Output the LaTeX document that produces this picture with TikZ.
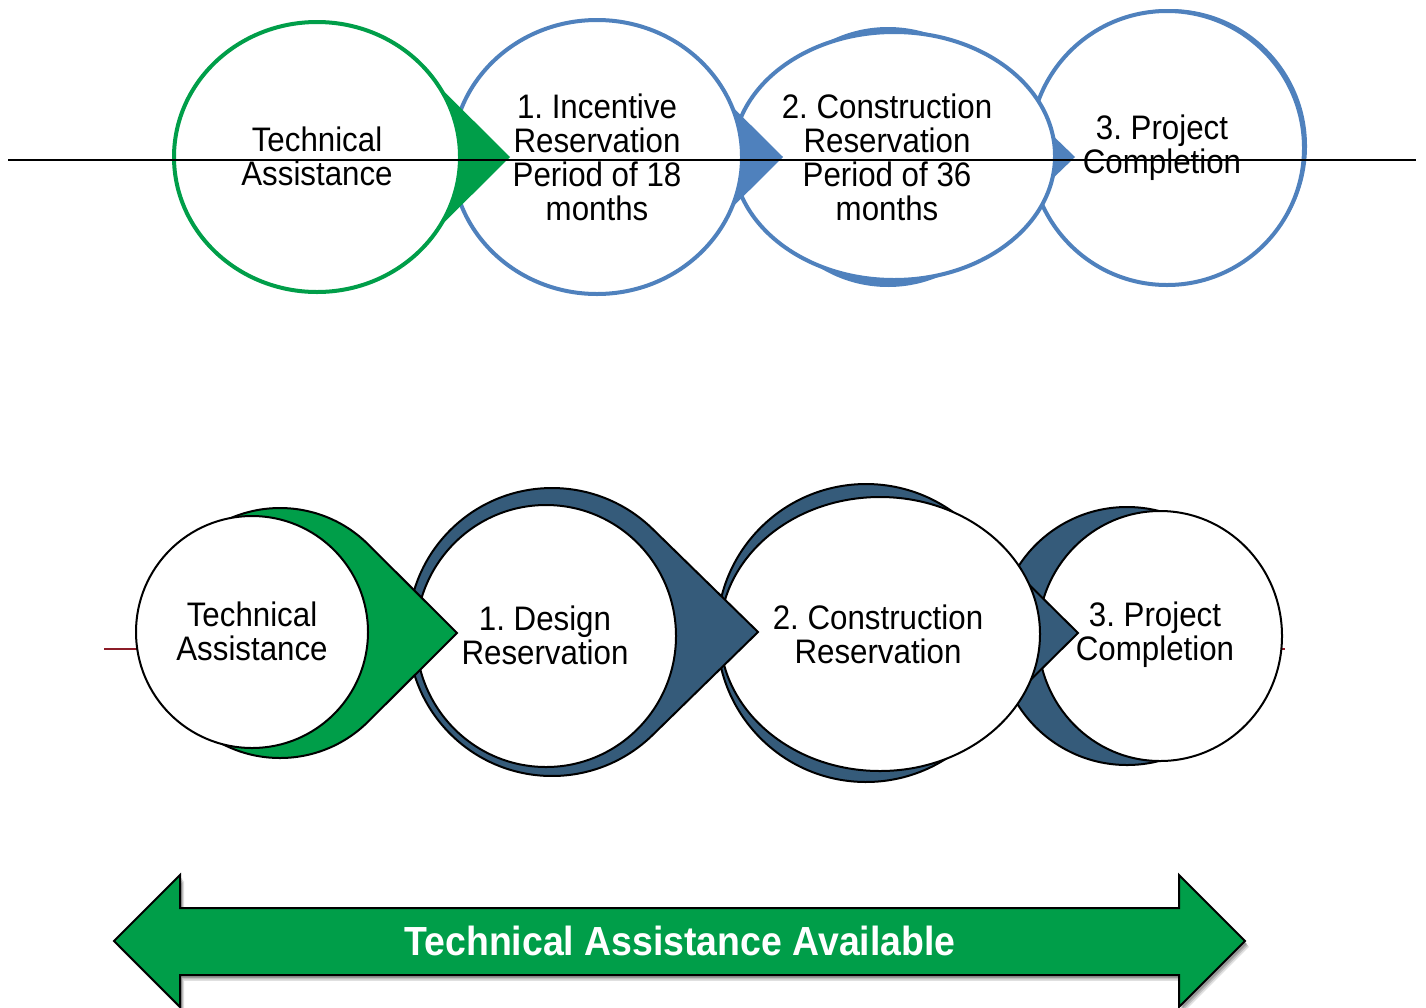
\documentclass[tikz,border=0pt]{standalone}
\usepackage{fontspec}
\setmainfont{Liberation Sans}[FakeStretch=0.92]
\definecolor{tagreen}{RGB}{0,158,73}
\definecolor{ringblue}{RGB}{79,129,189}
\definecolor{slate}{RGB}{53,91,122}
\definecolor{wine}{RGB}{140,28,40}
% #1 options, #2 cx, #3 cy, #4 radius, #5 tip x
\newcommand\dropshape[5]{%
  \pgfmathsetmacro\dropang{acos(#4/(#5-#2))}%
  \path[#1] ({#2+#4*cos(\dropang)},{#3-#4*sin(\dropang)}) -- (#5,#3) --
    ({#2+#4*cos(\dropang)},{#3+#4*sin(\dropang)})
    arc[start angle=\dropang, end angle={360-\dropang}, radius=#4] -- cycle;
}
\begin{document}
\frenchspacing
\begin{tikzpicture}[x=0.75pt,y=-0.75pt,
  lbl/.style={align=center, font=\frenchspacing\fontsize{25.5pt}{25.5pt}\selectfont, inner sep=0pt, text=black},
  ring/.style={fill=white, draw=#1, line width=3pt},
  slateshape/.style={fill=slate, draw=black, line width=1.5pt},
  greenshape/.style={fill=tagreen, draw=black, line width=1.5pt},
  whitedisc/.style={fill=white, draw=black, line width=1.5pt}]
\useasboundingbox (0,0) rectangle (1426,1007);

% ---------- top row (drawn right to left) ----------
\fill[ringblue] (1170,146) circle[radius=137];
\draw[ring=ringblue] (1167,148) ellipse[x radius=137, y radius=137];

\dropshape{fill=ringblue}{888}{157}{130}{1075}
\draw[ring=ringblue] (894,156) ellipse[x radius=161, y radius=124];

\dropshape{fill=ringblue}{597}{157}{131}{783}
\draw[ring=ringblue] (597,157) ellipse[x radius=145, y radius=137];

\dropshape{fill=tagreen}{317}{157}{136}{510}
\draw[ring=tagreen] (317,157) ellipse[x radius=143, y radius=135];

\coordinate (lineL) at (8,160);
\coordinate (lineR) at (1416,160);
\draw[black, line width=2pt] (lineL) -- (lineR);

\node[lbl] (ta1) at (317,156) {Technical\\Assistance};
\node[lbl] (s1) at (597,157) {1. Incentive\\Reservation\\Period of 18\\months};
\node[lbl] (s2) at (887,157) {2. Construction\\Reservation\\Period of 36\\months};
\node[lbl] (s3) at (1162,148) {3. Project\\Completion};

% ---------- bottom row ----------
\coordinate (redL) at (104,649);
\coordinate (redR) at (1285,649);
\draw[wine, line width=2.2pt] (redL) -- (redR);

\path[slateshape] (1127,636) circle[radius=129];
\path[whitedisc] (1160,636) ellipse[x radius=122, y radius=125];

\dropshape{slateshape}{866}{633}{149}{1078}
\path[whitedisc] (880,634) ellipse[x radius=160, y radius=137];

\dropshape{slateshape}{552}{632}{144}{758}
\path[whitedisc] (546,636) ellipse[x radius=130, y radius=131];

\dropshape{greenshape}{280}{633}{125}{457}
\path[whitedisc] (252,632) ellipse[x radius=116, y radius=116];

\node[lbl] (ta2) at (252,631) {Technical\\Assistance};
\node[lbl] (d1) at (545,635) {1. Design\\Reservation};
\node[lbl] (d2) at (878,634) {2. Construction\\Reservation};
\node[lbl] (d3) at (1155,635) {3. Project\\Completion};

% ---------- double arrow ----------
\foreach \s/\o in {4/0.12, 3/0.15, 2/0.2} {
  \fill[black, opacity=\o, shift={(\s*0.75pt,-\s*1.1pt)}]
    (114,941) -- (180,875) -- (180,908) -- (1179,908) -- (1179,875) -- (1245,941)
    -- (1179,1007) -- (1179,975) -- (180,975) -- (180,1007) -- cycle;
}
\draw[fill=tagreen, draw=black, line width=1.5pt, line join=miter]
  (114,941) -- (180,875) -- (180,908) -- (1179,908) -- (1179,875) -- (1245,941)
  -- (1179,1007) -- (1179,975) -- (180,975) -- (180,1007) -- cycle;
\node[font=\bfseries\fontsize{30.5pt}{30.5pt}\selectfont, text=white, inner sep=0pt] (avail) at (680,941) {Technical Assistance Available};
\end{tikzpicture}
\end{document}
